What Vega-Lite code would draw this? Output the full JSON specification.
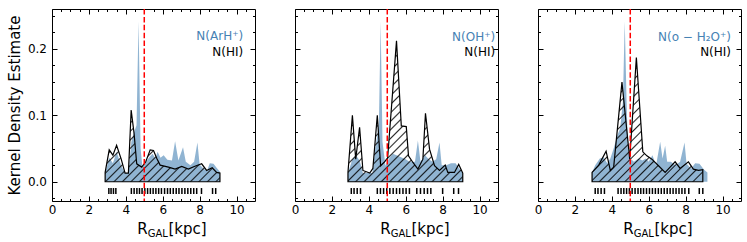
{
"$schema": "https://vega.github.io/schema/vega-lite/v6.json",
"padding": {"left": 6, "top": 7, "right": 4, "bottom": 4},
"spacing": 40,
"bounds": "flush",
"config": {
  "view": {"stroke": "black", "strokeWidth": 1},
  "font": "DejaVu Sans",
  "axis": {"domain": false, "grid": false, "tickColor": "black", "tickWidth": 1, "labelColor": "black", "labelFont": "DejaVu Sans", "labelFontSize": 12, "titleFont": "DejaVu Sans", "titleFontWeight": "normal", "titleColor": "black", "zindex": 1}
},
"datasets": {
  "one": [{}],
  "m1": [{"R":2.88,"K":0.013},{"R":3.1,"K":0.036},{"R":3.3,"K":0.028},{"R":3.5,"K":0.045},{"R":3.75,"K":0.024},{"R":3.96,"K":0.013},{"R":4.14,"K":0.013},{"R":4.3,"K":0.06},{"R":4.45,"K":0.075},{"R":4.58,"K":0.085},{"R":4.69,"K":0.241},{"R":4.8,"K":0.05},{"R":4.9,"K":0.022},{"R":5.05,"K":0.028},{"R":5.25,"K":0.036},{"R":5.45,"K":0.042},{"R":5.6,"K":0.035},{"R":5.72,"K":0.045},{"R":5.88,"K":0.036},{"R":6.05,"K":0.04},{"R":6.25,"K":0.033},{"R":6.5,"K":0.032},{"R":6.67,"K":0.061},{"R":6.85,"K":0.032},{"R":7.1,"K":0.052},{"R":7.25,"K":0.03},{"R":7.5,"K":0.025},{"R":7.7,"K":0.03},{"R":7.88,"K":0.059},{"R":8.0,"K":0.026},{"R":8.2,"K":0.02},{"R":8.4,"K":0.016},{"R":8.55,"K":0.028},{"R":8.75,"K":0.027},{"R":8.95,"K":0.02},{"R":9.1,"K":0.015}],
  "h1": [{"R":2.88,"K":0.014},{"R":3.1,"K":0.048},{"R":3.3,"K":0.04},{"R":3.5,"K":0.055},{"R":3.75,"K":0.034},{"R":3.96,"K":0.013},{"R":4.14,"K":0.013},{"R":4.29,"K":0.108},{"R":4.45,"K":0.072},{"R":4.59,"K":0.027},{"R":4.86,"K":0.022},{"R":5.08,"K":0.03},{"R":5.32,"K":0.048},{"R":5.5,"K":0.047},{"R":5.68,"K":0.035},{"R":5.86,"K":0.025},{"R":6.31,"K":0.022},{"R":6.67,"K":0.019},{"R":7.03,"K":0.023},{"R":7.39,"K":0.019},{"R":7.71,"K":0.023},{"R":8.11,"K":0.027},{"R":8.38,"K":0.017},{"R":8.68,"K":0.021},{"R":8.92,"K":0.014},{"R":9.1,"K":0.013}],
  "r1": [{"R":3.08},{"R":3.2},{"R":3.33},{"R":3.46},{"R":4.3},{"R":4.45},{"R":4.6},{"R":4.74},{"R":4.88},{"R":5.03},{"R":5.18},{"R":5.33},{"R":5.48},{"R":5.63},{"R":5.78},{"R":5.93},{"R":6.1},{"R":6.26},{"R":6.41},{"R":6.57},{"R":6.73},{"R":6.88},{"R":7.04},{"R":7.2},{"R":7.36},{"R":7.52},{"R":7.68},{"R":7.84},{"R":8.1},{"R":8.7},{"R":8.87}],
  "m2": [{"R":2.87,"K":0.013},{"R":3.11,"K":0.034},{"R":3.3,"K":0.04},{"R":3.5,"K":0.032},{"R":3.68,"K":0.013},{"R":4.2,"K":0.013},{"R":4.35,"K":0.05},{"R":4.46,"K":0.07},{"R":4.55,"K":0.09},{"R":4.64,"K":0.241},{"R":4.74,"K":0.06},{"R":4.9,"K":0.024},{"R":5.1,"K":0.035},{"R":5.3,"K":0.042},{"R":5.5,"K":0.04},{"R":5.75,"K":0.037},{"R":6.0,"K":0.034},{"R":6.2,"K":0.03},{"R":6.5,"K":0.03},{"R":6.66,"K":0.062},{"R":6.8,"K":0.03},{"R":7.05,"K":0.04},{"R":7.25,"K":0.034},{"R":7.45,"K":0.03},{"R":7.65,"K":0.034},{"R":7.83,"K":0.059},{"R":7.95,"K":0.025},{"R":8.2,"K":0.025},{"R":8.45,"K":0.028},{"R":8.7,"K":0.028},{"R":8.9,"K":0.02},{"R":9.09,"K":0.014}],
  "h2": [{"R":2.87,"K":0.014},{"R":3.11,"K":0.1},{"R":3.29,"K":0.034},{"R":3.5,"K":0.082},{"R":3.68,"K":0.017},{"R":4.05,"K":0.013},{"R":4.22,"K":0.02},{"R":4.46,"K":0.1},{"R":4.64,"K":0.024},{"R":4.85,"K":0.03},{"R":5.02,"K":0.036},{"R":5.5,"K":0.212},{"R":5.76,"K":0.084},{"R":6.03,"K":0.083},{"R":6.15,"K":0.039},{"R":6.39,"K":0.029},{"R":6.66,"K":0.019},{"R":6.93,"K":0.034},{"R":7.07,"K":0.103},{"R":7.29,"K":0.049},{"R":7.56,"K":0.024},{"R":7.83,"K":0.017},{"R":8.14,"K":0.025},{"R":8.28,"K":0.014},{"R":8.64,"K":0.014},{"R":8.87,"K":0.026},{"R":9.09,"K":0.013}],
  "r2": [{"R":3.05},{"R":3.2},{"R":3.37},{"R":3.55},{"R":4.46},{"R":4.63},{"R":4.8},{"R":4.97},{"R":5.14},{"R":5.32},{"R":5.5},{"R":5.67},{"R":5.85},{"R":6.02},{"R":6.2},{"R":6.6},{"R":6.8},{"R":7.0},{"R":7.18},{"R":7.36},{"R":8.0},{"R":8.6},{"R":8.86}],
  "m3": [{"R":2.93,"K":0.014},{"R":3.1,"K":0.025},{"R":3.35,"K":0.035},{"R":3.55,"K":0.037},{"R":3.75,"K":0.028},{"R":3.92,"K":0.035},{"R":4.1,"K":0.05},{"R":4.3,"K":0.07},{"R":4.45,"K":0.08},{"R":4.6,"K":0.12},{"R":4.7,"K":0.241},{"R":4.8,"K":0.12},{"R":4.88,"K":0.045},{"R":5.0,"K":0.035},{"R":5.2,"K":0.03},{"R":5.45,"K":0.035},{"R":5.65,"K":0.032},{"R":5.85,"K":0.035},{"R":6.0,"K":0.03},{"R":6.2,"K":0.04},{"R":6.4,"K":0.025},{"R":6.62,"K":0.06},{"R":6.75,"K":0.035},{"R":6.89,"K":0.054},{"R":7.0,"K":0.03},{"R":7.2,"K":0.03},{"R":7.45,"K":0.025},{"R":7.7,"K":0.03},{"R":7.94,"K":0.059},{"R":8.05,"K":0.027},{"R":8.3,"K":0.02},{"R":8.52,"K":0.028},{"R":8.75,"K":0.027},{"R":9.0,"K":0.018},{"R":9.18,"K":0.014}],
  "h3": [{"R":2.93,"K":0.014},{"R":3.29,"K":0.025},{"R":3.69,"K":0.046},{"R":3.92,"K":0.017},{"R":4.1,"K":0.022},{"R":4.55,"K":0.15},{"R":4.97,"K":0.034},{"R":5.33,"K":0.187},{"R":5.68,"K":0.045},{"R":5.9,"K":0.039},{"R":6.17,"K":0.034},{"R":6.53,"K":0.024},{"R":6.89,"K":0.014},{"R":7.16,"K":0.022},{"R":7.43,"K":0.03},{"R":7.7,"K":0.02},{"R":8.15,"K":0.03},{"R":8.42,"K":0.019},{"R":8.7,"K":0.017},{"R":8.93,"K":0.018}],
  "r3": [{"R":3.1},{"R":3.25},{"R":3.42},{"R":3.6},{"R":4.34},{"R":4.5},{"R":4.65},{"R":4.8},{"R":4.95},{"R":5.1},{"R":5.26},{"R":5.42},{"R":5.57},{"R":5.72},{"R":5.88},{"R":6.04},{"R":6.2},{"R":6.36},{"R":6.52},{"R":6.68},{"R":6.84},{"R":7.0},{"R":7.16},{"R":7.32},{"R":7.48},{"R":7.64},{"R":7.8},{"R":7.96},{"R":8.17},{"R":8.74},{"R":8.93}]
},
"hconcat": [
{
  "width": 203, "height": 192,
  "resolve": {"axis": {"x": "independent", "y": "independent"}},
  "layer": [
    {"data": {"name": "m1"}, "mark": {"type": "area", "color": "#4682b4", "opacity": 0.6},
     "encoding": {
       "x": {"field": "R", "type": "quantitative", "scale": {"domain": [0, 11], "nice": false, "zero": false}, "axis": {"orient": "bottom", "values": [0,2,4,6,8,10], "ticks": false, "labelPadding": 3, "format": "d", "title": null, "labelFlush": false, "labelOverlap": false}},
       "y": {"field": "K", "type": "quantitative", "scale": {"domain": [-0.029, 0.26], "nice": false, "zero": false}, "axis": {"orient": "left", "values": [0, 0.1, 0.2], "ticks": false, "labelPadding": 5.5, "format": ".1f", "title": "Kernel Density Estimate", "titleFontSize": 15, "titlePadding": 5, "labelFlush": false}},
       "y2": {"datum": 0}}},
    {"data": {"name": "h1"}, "mark": {"type": "area", "stroke": "black", "strokeWidth": 1.2, "fill": {"gradient": "linear", "x1": 0, "y1": 0, "x2": 1.1685, "y2": 0.7304, "stops": [
      {"offset":0.013,"color":"rgba(0,0,0,0)"},{"offset":0.021,"color":"rgba(0,0,0,0.85)"},{"offset":0.029,"color":"rgba(0,0,0,0)"},
      {"offset":0.059,"color":"rgba(0,0,0,0)"},{"offset":0.067,"color":"rgba(0,0,0,0.85)"},{"offset":0.075,"color":"rgba(0,0,0,0)"},
      {"offset":0.105,"color":"rgba(0,0,0,0)"},{"offset":0.113,"color":"rgba(0,0,0,0.85)"},{"offset":0.121,"color":"rgba(0,0,0,0)"},
      {"offset":0.150,"color":"rgba(0,0,0,0)"},{"offset":0.158,"color":"rgba(0,0,0,0.85)"},{"offset":0.166,"color":"rgba(0,0,0,0)"},
      {"offset":0.196,"color":"rgba(0,0,0,0)"},{"offset":0.204,"color":"rgba(0,0,0,0.85)"},{"offset":0.212,"color":"rgba(0,0,0,0)"},
      {"offset":0.241,"color":"rgba(0,0,0,0)"},{"offset":0.249,"color":"rgba(0,0,0,0.85)"},{"offset":0.257,"color":"rgba(0,0,0,0)"},
      {"offset":0.287,"color":"rgba(0,0,0,0)"},{"offset":0.295,"color":"rgba(0,0,0,0.85)"},{"offset":0.303,"color":"rgba(0,0,0,0)"},
      {"offset":0.332,"color":"rgba(0,0,0,0)"},{"offset":0.340,"color":"rgba(0,0,0,0.85)"},{"offset":0.348,"color":"rgba(0,0,0,0)"},
      {"offset":0.378,"color":"rgba(0,0,0,0)"},{"offset":0.386,"color":"rgba(0,0,0,0.85)"},{"offset":0.394,"color":"rgba(0,0,0,0)"},
      {"offset":0.424,"color":"rgba(0,0,0,0)"},{"offset":0.432,"color":"rgba(0,0,0,0.85)"},{"offset":0.440,"color":"rgba(0,0,0,0)"},
      {"offset":0.469,"color":"rgba(0,0,0,0)"},{"offset":0.477,"color":"rgba(0,0,0,0.85)"},{"offset":0.485,"color":"rgba(0,0,0,0)"},
      {"offset":0.515,"color":"rgba(0,0,0,0)"},{"offset":0.523,"color":"rgba(0,0,0,0.85)"},{"offset":0.531,"color":"rgba(0,0,0,0)"},
      {"offset":0.560,"color":"rgba(0,0,0,0)"},{"offset":0.568,"color":"rgba(0,0,0,0.85)"},{"offset":0.576,"color":"rgba(0,0,0,0)"},
      {"offset":0.606,"color":"rgba(0,0,0,0)"},{"offset":0.614,"color":"rgba(0,0,0,0.85)"},{"offset":0.622,"color":"rgba(0,0,0,0)"},
      {"offset":0.651,"color":"rgba(0,0,0,0)"},{"offset":0.659,"color":"rgba(0,0,0,0.85)"},{"offset":0.667,"color":"rgba(0,0,0,0)"},
      {"offset":0.697,"color":"rgba(0,0,0,0)"},{"offset":0.705,"color":"rgba(0,0,0,0.85)"},{"offset":0.713,"color":"rgba(0,0,0,0)"},
      {"offset":0.743,"color":"rgba(0,0,0,0)"},{"offset":0.751,"color":"rgba(0,0,0,0.85)"},{"offset":0.759,"color":"rgba(0,0,0,0)"},
      {"offset":0.788,"color":"rgba(0,0,0,0)"},{"offset":0.796,"color":"rgba(0,0,0,0.85)"},{"offset":0.804,"color":"rgba(0,0,0,0)"},
      {"offset":0.834,"color":"rgba(0,0,0,0)"},{"offset":0.842,"color":"rgba(0,0,0,0.85)"},{"offset":0.850,"color":"rgba(0,0,0,0)"},
      {"offset":0.879,"color":"rgba(0,0,0,0)"},{"offset":0.887,"color":"rgba(0,0,0,0.85)"},{"offset":0.895,"color":"rgba(0,0,0,0)"},
      {"offset":0.925,"color":"rgba(0,0,0,0)"},{"offset":0.933,"color":"rgba(0,0,0,0.85)"},{"offset":0.941,"color":"rgba(0,0,0,0)"},
      {"offset":0.970,"color":"rgba(0,0,0,0)"},{"offset":0.978,"color":"rgba(0,0,0,0.85)"},{"offset":0.986,"color":"rgba(0,0,0,0)"}
      ]}},
     "encoding": {
       "x": {"field": "R", "type": "quantitative", "axis": {"orient": "bottom", "values": [0,2,4,6,8,10], "labels": false, "tickSize": -5, "title": null}},
       "y": {"field": "K", "type": "quantitative", "axis": {"orient": "left", "values": [0,0.1,0.2], "labels": false, "tickSize": -5, "title": null}},
       "y2": {"datum": 0}}},
    {"data": {"name": "m1"}, "mark": {"type": "point", "opacity": 0},
     "encoding": {
       "x": {"field": "R", "type": "quantitative", "axis": {"orient": "top", "values": [0,2,4,6,8,10], "labels": false, "tickSize": -5, "title": null}},
       "y": {"field": "K", "type": "quantitative", "axis": {"orient": "right", "values": [0,0.1,0.2], "labels": false, "tickSize": -5, "title": null}}}},
    {"data": {"name": "m1"}, "mark": {"type": "point", "opacity": 0},
     "encoding": {
       "x": {"field": "R", "type": "quantitative", "axis": {"orient": "bottom", "values": [0.5,1,1.5,2.5,3,3.5,4.5,5,5.5,6.5,7,7.5,8.5,9,9.5,10.5], "labels": false, "tickSize": -2.5, "title": null}},
       "y": {"field": "K", "type": "quantitative", "axis": {"orient": "left", "values": [-0.025,0.025,0.05,0.075,0.125,0.15,0.175,0.225,0.25], "labels": false, "tickSize": -2.5, "title": null}}}},
    {"data": {"name": "m1"}, "mark": {"type": "point", "opacity": 0},
     "encoding": {
       "x": {"field": "R", "type": "quantitative", "axis": {"orient": "top", "values": [0.5,1,1.5,2.5,3,3.5,4.5,5,5.5,6.5,7,7.5,8.5,9,9.5,10.5], "labels": false, "tickSize": -2.5, "title": null}},
       "y": {"field": "K", "type": "quantitative", "axis": {"orient": "right", "values": [-0.025,0.025,0.05,0.075,0.125,0.15,0.175,0.225,0.25], "labels": false, "tickSize": -2.5, "title": null}}}},
    {"data": {"name": "r1"}, "mark": {"type": "rule", "color": "black", "strokeWidth": 1.5},
     "encoding": {"x": {"field": "R", "type": "quantitative", "axis": null}, "y": {"datum": -0.0185, "axis": null}, "y2": {"datum": -0.0095}}},
    {"data": {"name": "one"}, "mark": {"type": "rule", "color": "red", "strokeWidth": 1.5, "strokeDash": [5.5, 2.4]},
     "encoding": {"x": {"datum": 5, "axis": null}}},
    {"data": {"name": "one"}, "mark": {"type": "text", "align": "right", "baseline": "middle", "fontSize": 12, "color": "#4682b4"},
     "encoding": {"x": {"datum": 10.36, "axis": null}, "y": {"datum": 0.219, "axis": null}, "text": {"value": "N(ArH⁺)"}}},
    {"data": {"name": "one"}, "mark": {"type": "text", "align": "right", "baseline": "middle", "fontSize": 12, "color": "black"},
     "encoding": {"x": {"datum": 10.36, "axis": null}, "y": {"datum": 0.195, "axis": null}, "text": {"value": "N(HI)"}}},
    {"data": {"name": "one"}, "mark": {"type": "text", "align": "left", "baseline": "alphabetic", "fontSize": 15, "color": "black"},
     "encoding": {"x": {"datum": 4.62, "axis": null}, "y": {"datum": -0.0786, "axis": null}, "text": {"value": "R"}}},
    {"data": {"name": "one"}, "mark": {"type": "text", "align": "left", "baseline": "alphabetic", "fontSize": 10, "color": "black"},
     "encoding": {"x": {"datum": 5.19, "axis": null}, "y": {"datum": -0.0825, "axis": null}, "text": {"value": "GAL"}}},
    {"data": {"name": "one"}, "mark": {"type": "text", "align": "left", "baseline": "alphabetic", "fontSize": 15, "color": "black"},
     "encoding": {"x": {"datum": 6.31, "axis": null}, "y": {"datum": -0.0786, "axis": null}, "text": {"value": "[kpc]"}}}
  ]
},
{
  "width": 203, "height": 192,
  "resolve": {"axis": {"x": "independent", "y": "independent"}},
  "layer": [
    {"data": {"name": "m2"}, "mark": {"type": "area", "color": "#4682b4", "opacity": 0.6},
     "encoding": {
       "x": {"field": "R", "type": "quantitative", "scale": {"domain": [0, 11], "nice": false, "zero": false}, "axis": {"orient": "bottom", "values": [0,2,4,6,8,10], "ticks": false, "labelPadding": 3, "format": "d", "title": null, "labelFlush": false, "labelOverlap": false}},
       "y": {"field": "K", "type": "quantitative", "scale": {"domain": [-0.029, 0.26], "nice": false, "zero": false}, "axis": null},
       "y2": {"datum": 0}}},
    {"data": {"name": "h2"}, "mark": {"type": "area", "stroke": "black", "strokeWidth": 1.2, "fill": {"gradient": "linear", "x1": 0, "y1": 0, "x2": 0.8888, "y2": 1.0906, "stops": [
      {"offset":0.010,"color":"rgba(0,0,0,0)"},{"offset":0.016,"color":"rgba(0,0,0,0.85)"},{"offset":0.022,"color":"rgba(0,0,0,0)"},
      {"offset":0.043,"color":"rgba(0,0,0,0)"},{"offset":0.049,"color":"rgba(0,0,0,0.85)"},{"offset":0.055,"color":"rgba(0,0,0,0)"},
      {"offset":0.076,"color":"rgba(0,0,0,0)"},{"offset":0.082,"color":"rgba(0,0,0,0.85)"},{"offset":0.088,"color":"rgba(0,0,0,0)"},
      {"offset":0.109,"color":"rgba(0,0,0,0)"},{"offset":0.115,"color":"rgba(0,0,0,0.85)"},{"offset":0.121,"color":"rgba(0,0,0,0)"},
      {"offset":0.143,"color":"rgba(0,0,0,0)"},{"offset":0.149,"color":"rgba(0,0,0,0.85)"},{"offset":0.155,"color":"rgba(0,0,0,0)"},
      {"offset":0.176,"color":"rgba(0,0,0,0)"},{"offset":0.182,"color":"rgba(0,0,0,0.85)"},{"offset":0.188,"color":"rgba(0,0,0,0)"},
      {"offset":0.209,"color":"rgba(0,0,0,0)"},{"offset":0.215,"color":"rgba(0,0,0,0.85)"},{"offset":0.221,"color":"rgba(0,0,0,0)"},
      {"offset":0.242,"color":"rgba(0,0,0,0)"},{"offset":0.248,"color":"rgba(0,0,0,0.85)"},{"offset":0.254,"color":"rgba(0,0,0,0)"},
      {"offset":0.276,"color":"rgba(0,0,0,0)"},{"offset":0.282,"color":"rgba(0,0,0,0.85)"},{"offset":0.288,"color":"rgba(0,0,0,0)"},
      {"offset":0.309,"color":"rgba(0,0,0,0)"},{"offset":0.315,"color":"rgba(0,0,0,0.85)"},{"offset":0.321,"color":"rgba(0,0,0,0)"},
      {"offset":0.342,"color":"rgba(0,0,0,0)"},{"offset":0.348,"color":"rgba(0,0,0,0.85)"},{"offset":0.354,"color":"rgba(0,0,0,0)"},
      {"offset":0.375,"color":"rgba(0,0,0,0)"},{"offset":0.381,"color":"rgba(0,0,0,0.85)"},{"offset":0.387,"color":"rgba(0,0,0,0)"},
      {"offset":0.409,"color":"rgba(0,0,0,0)"},{"offset":0.415,"color":"rgba(0,0,0,0.85)"},{"offset":0.421,"color":"rgba(0,0,0,0)"},
      {"offset":0.442,"color":"rgba(0,0,0,0)"},{"offset":0.448,"color":"rgba(0,0,0,0.85)"},{"offset":0.454,"color":"rgba(0,0,0,0)"},
      {"offset":0.475,"color":"rgba(0,0,0,0)"},{"offset":0.481,"color":"rgba(0,0,0,0.85)"},{"offset":0.487,"color":"rgba(0,0,0,0)"},
      {"offset":0.508,"color":"rgba(0,0,0,0)"},{"offset":0.514,"color":"rgba(0,0,0,0.85)"},{"offset":0.520,"color":"rgba(0,0,0,0)"},
      {"offset":0.542,"color":"rgba(0,0,0,0)"},{"offset":0.548,"color":"rgba(0,0,0,0.85)"},{"offset":0.554,"color":"rgba(0,0,0,0)"},
      {"offset":0.575,"color":"rgba(0,0,0,0)"},{"offset":0.581,"color":"rgba(0,0,0,0.85)"},{"offset":0.587,"color":"rgba(0,0,0,0)"},
      {"offset":0.608,"color":"rgba(0,0,0,0)"},{"offset":0.614,"color":"rgba(0,0,0,0.85)"},{"offset":0.620,"color":"rgba(0,0,0,0)"},
      {"offset":0.641,"color":"rgba(0,0,0,0)"},{"offset":0.647,"color":"rgba(0,0,0,0.85)"},{"offset":0.653,"color":"rgba(0,0,0,0)"},
      {"offset":0.675,"color":"rgba(0,0,0,0)"},{"offset":0.681,"color":"rgba(0,0,0,0.85)"},{"offset":0.687,"color":"rgba(0,0,0,0)"},
      {"offset":0.708,"color":"rgba(0,0,0,0)"},{"offset":0.714,"color":"rgba(0,0,0,0.85)"},{"offset":0.720,"color":"rgba(0,0,0,0)"},
      {"offset":0.741,"color":"rgba(0,0,0,0)"},{"offset":0.747,"color":"rgba(0,0,0,0.85)"},{"offset":0.753,"color":"rgba(0,0,0,0)"},
      {"offset":0.774,"color":"rgba(0,0,0,0)"},{"offset":0.780,"color":"rgba(0,0,0,0.85)"},{"offset":0.786,"color":"rgba(0,0,0,0)"},
      {"offset":0.808,"color":"rgba(0,0,0,0)"},{"offset":0.814,"color":"rgba(0,0,0,0.85)"},{"offset":0.820,"color":"rgba(0,0,0,0)"},
      {"offset":0.841,"color":"rgba(0,0,0,0)"},{"offset":0.847,"color":"rgba(0,0,0,0.85)"},{"offset":0.853,"color":"rgba(0,0,0,0)"},
      {"offset":0.874,"color":"rgba(0,0,0,0)"},{"offset":0.880,"color":"rgba(0,0,0,0.85)"},{"offset":0.886,"color":"rgba(0,0,0,0)"},
      {"offset":0.907,"color":"rgba(0,0,0,0)"},{"offset":0.913,"color":"rgba(0,0,0,0.85)"},{"offset":0.919,"color":"rgba(0,0,0,0)"},
      {"offset":0.941,"color":"rgba(0,0,0,0)"},{"offset":0.947,"color":"rgba(0,0,0,0.85)"},{"offset":0.953,"color":"rgba(0,0,0,0)"},
      {"offset":0.974,"color":"rgba(0,0,0,0)"},{"offset":0.980,"color":"rgba(0,0,0,0.85)"},{"offset":0.986,"color":"rgba(0,0,0,0)"}
      ]}},
     "encoding": {
       "x": {"field": "R", "type": "quantitative", "axis": {"orient": "bottom", "values": [0,2,4,6,8,10], "labels": false, "tickSize": -5, "title": null}},
       "y": {"field": "K", "type": "quantitative", "axis": {"orient": "left", "values": [0,0.1,0.2], "labels": false, "tickSize": -5, "title": null}},
       "y2": {"datum": 0}}},
    {"data": {"name": "m2"}, "mark": {"type": "point", "opacity": 0},
     "encoding": {
       "x": {"field": "R", "type": "quantitative", "axis": {"orient": "top", "values": [0,2,4,6,8,10], "labels": false, "tickSize": -5, "title": null}},
       "y": {"field": "K", "type": "quantitative", "axis": {"orient": "right", "values": [0,0.1,0.2], "labels": false, "tickSize": -5, "title": null}}}},
    {"data": {"name": "m2"}, "mark": {"type": "point", "opacity": 0},
     "encoding": {
       "x": {"field": "R", "type": "quantitative", "axis": {"orient": "bottom", "values": [0.5,1,1.5,2.5,3,3.5,4.5,5,5.5,6.5,7,7.5,8.5,9,9.5,10.5], "labels": false, "tickSize": -2.5, "title": null}},
       "y": {"field": "K", "type": "quantitative", "axis": {"orient": "left", "values": [-0.025,0.025,0.05,0.075,0.125,0.15,0.175,0.225,0.25], "labels": false, "tickSize": -2.5, "title": null}}}},
    {"data": {"name": "m2"}, "mark": {"type": "point", "opacity": 0},
     "encoding": {
       "x": {"field": "R", "type": "quantitative", "axis": {"orient": "top", "values": [0.5,1,1.5,2.5,3,3.5,4.5,5,5.5,6.5,7,7.5,8.5,9,9.5,10.5], "labels": false, "tickSize": -2.5, "title": null}},
       "y": {"field": "K", "type": "quantitative", "axis": {"orient": "right", "values": [-0.025,0.025,0.05,0.075,0.125,0.15,0.175,0.225,0.25], "labels": false, "tickSize": -2.5, "title": null}}}},
    {"data": {"name": "r2"}, "mark": {"type": "rule", "color": "black", "strokeWidth": 1.5},
     "encoding": {"x": {"field": "R", "type": "quantitative", "axis": null}, "y": {"datum": -0.0185, "axis": null}, "y2": {"datum": -0.0095}}},
    {"data": {"name": "one"}, "mark": {"type": "rule", "color": "red", "strokeWidth": 1.5, "strokeDash": [5.5, 2.4]},
     "encoding": {"x": {"datum": 5, "axis": null}}},
    {"data": {"name": "one"}, "mark": {"type": "text", "align": "right", "baseline": "middle", "fontSize": 12, "color": "#4682b4"},
     "encoding": {"x": {"datum": 10.85, "axis": null}, "y": {"datum": 0.218, "axis": null}, "text": {"value": "N(OH⁺)"}}},
    {"data": {"name": "one"}, "mark": {"type": "text", "align": "right", "baseline": "middle", "fontSize": 12, "color": "black"},
     "encoding": {"x": {"datum": 10.85, "axis": null}, "y": {"datum": 0.196, "axis": null}, "text": {"value": "N(HI)"}}},
    {"data": {"name": "one"}, "mark": {"type": "text", "align": "left", "baseline": "alphabetic", "fontSize": 15, "color": "black"},
     "encoding": {"x": {"datum": 4.62, "axis": null}, "y": {"datum": -0.0786, "axis": null}, "text": {"value": "R"}}},
    {"data": {"name": "one"}, "mark": {"type": "text", "align": "left", "baseline": "alphabetic", "fontSize": 10, "color": "black"},
     "encoding": {"x": {"datum": 5.19, "axis": null}, "y": {"datum": -0.0825, "axis": null}, "text": {"value": "GAL"}}},
    {"data": {"name": "one"}, "mark": {"type": "text", "align": "left", "baseline": "alphabetic", "fontSize": 15, "color": "black"},
     "encoding": {"x": {"datum": 6.31, "axis": null}, "y": {"datum": -0.0786, "axis": null}, "text": {"value": "[kpc]"}}}
  ]
},
{
  "width": 203, "height": 192,
  "resolve": {"axis": {"x": "independent", "y": "independent"}},
  "layer": [
    {"data": {"name": "m3"}, "mark": {"type": "area", "color": "#4682b4", "opacity": 0.6},
     "encoding": {
       "x": {"field": "R", "type": "quantitative", "scale": {"domain": [0, 11], "nice": false, "zero": false}, "axis": {"orient": "bottom", "values": [0,2,4,6,8,10], "ticks": false, "labelPadding": 3, "format": "d", "title": null, "labelFlush": false, "labelOverlap": false}},
       "y": {"field": "K", "type": "quantitative", "scale": {"domain": [-0.029, 0.26], "nice": false, "zero": false}, "axis": null},
       "y2": {"datum": 0}}},
    {"data": {"name": "h3"}, "mark": {"type": "area", "stroke": "black", "strokeWidth": 1.2, "fill": {"gradient": "linear", "x1": 0, "y1": 0, "x2": 0.9394, "y2": 1.054, "stops": [
      {"offset":0.011,"color":"rgba(0,0,0,0)"},{"offset":0.017,"color":"rgba(0,0,0,0.85)"},{"offset":0.023,"color":"rgba(0,0,0,0)"},
      {"offset":0.047,"color":"rgba(0,0,0,0)"},{"offset":0.053,"color":"rgba(0,0,0,0.85)"},{"offset":0.060,"color":"rgba(0,0,0,0)"},
      {"offset":0.083,"color":"rgba(0,0,0,0)"},{"offset":0.089,"color":"rgba(0,0,0,0.85)"},{"offset":0.096,"color":"rgba(0,0,0,0)"},
      {"offset":0.119,"color":"rgba(0,0,0,0)"},{"offset":0.126,"color":"rgba(0,0,0,0.85)"},{"offset":0.132,"color":"rgba(0,0,0,0)"},
      {"offset":0.155,"color":"rgba(0,0,0,0)"},{"offset":0.162,"color":"rgba(0,0,0,0.85)"},{"offset":0.168,"color":"rgba(0,0,0,0)"},
      {"offset":0.192,"color":"rgba(0,0,0,0)"},{"offset":0.198,"color":"rgba(0,0,0,0.85)"},{"offset":0.204,"color":"rgba(0,0,0,0)"},
      {"offset":0.228,"color":"rgba(0,0,0,0)"},{"offset":0.234,"color":"rgba(0,0,0,0.85)"},{"offset":0.241,"color":"rgba(0,0,0,0)"},
      {"offset":0.264,"color":"rgba(0,0,0,0)"},{"offset":0.270,"color":"rgba(0,0,0,0.85)"},{"offset":0.277,"color":"rgba(0,0,0,0)"},
      {"offset":0.300,"color":"rgba(0,0,0,0)"},{"offset":0.306,"color":"rgba(0,0,0,0.85)"},{"offset":0.313,"color":"rgba(0,0,0,0)"},
      {"offset":0.336,"color":"rgba(0,0,0,0)"},{"offset":0.343,"color":"rgba(0,0,0,0.85)"},{"offset":0.349,"color":"rgba(0,0,0,0)"},
      {"offset":0.372,"color":"rgba(0,0,0,0)"},{"offset":0.379,"color":"rgba(0,0,0,0.85)"},{"offset":0.385,"color":"rgba(0,0,0,0)"},
      {"offset":0.409,"color":"rgba(0,0,0,0)"},{"offset":0.415,"color":"rgba(0,0,0,0.85)"},{"offset":0.421,"color":"rgba(0,0,0,0)"},
      {"offset":0.445,"color":"rgba(0,0,0,0)"},{"offset":0.451,"color":"rgba(0,0,0,0.85)"},{"offset":0.458,"color":"rgba(0,0,0,0)"},
      {"offset":0.481,"color":"rgba(0,0,0,0)"},{"offset":0.487,"color":"rgba(0,0,0,0.85)"},{"offset":0.494,"color":"rgba(0,0,0,0)"},
      {"offset":0.517,"color":"rgba(0,0,0,0)"},{"offset":0.524,"color":"rgba(0,0,0,0.85)"},{"offset":0.530,"color":"rgba(0,0,0,0)"},
      {"offset":0.553,"color":"rgba(0,0,0,0)"},{"offset":0.560,"color":"rgba(0,0,0,0.85)"},{"offset":0.566,"color":"rgba(0,0,0,0)"},
      {"offset":0.589,"color":"rgba(0,0,0,0)"},{"offset":0.596,"color":"rgba(0,0,0,0.85)"},{"offset":0.602,"color":"rgba(0,0,0,0)"},
      {"offset":0.626,"color":"rgba(0,0,0,0)"},{"offset":0.632,"color":"rgba(0,0,0,0.85)"},{"offset":0.638,"color":"rgba(0,0,0,0)"},
      {"offset":0.662,"color":"rgba(0,0,0,0)"},{"offset":0.668,"color":"rgba(0,0,0,0.85)"},{"offset":0.675,"color":"rgba(0,0,0,0)"},
      {"offset":0.698,"color":"rgba(0,0,0,0)"},{"offset":0.704,"color":"rgba(0,0,0,0.85)"},{"offset":0.711,"color":"rgba(0,0,0,0)"},
      {"offset":0.734,"color":"rgba(0,0,0,0)"},{"offset":0.741,"color":"rgba(0,0,0,0.85)"},{"offset":0.747,"color":"rgba(0,0,0,0)"},
      {"offset":0.770,"color":"rgba(0,0,0,0)"},{"offset":0.777,"color":"rgba(0,0,0,0.85)"},{"offset":0.783,"color":"rgba(0,0,0,0)"},
      {"offset":0.806,"color":"rgba(0,0,0,0)"},{"offset":0.813,"color":"rgba(0,0,0,0.85)"},{"offset":0.819,"color":"rgba(0,0,0,0)"},
      {"offset":0.843,"color":"rgba(0,0,0,0)"},{"offset":0.849,"color":"rgba(0,0,0,0.85)"},{"offset":0.855,"color":"rgba(0,0,0,0)"},
      {"offset":0.879,"color":"rgba(0,0,0,0)"},{"offset":0.885,"color":"rgba(0,0,0,0.85)"},{"offset":0.892,"color":"rgba(0,0,0,0)"},
      {"offset":0.915,"color":"rgba(0,0,0,0)"},{"offset":0.921,"color":"rgba(0,0,0,0.85)"},{"offset":0.928,"color":"rgba(0,0,0,0)"},
      {"offset":0.951,"color":"rgba(0,0,0,0)"},{"offset":0.958,"color":"rgba(0,0,0,0.85)"},{"offset":0.964,"color":"rgba(0,0,0,0)"}
      ]}},
     "encoding": {
       "x": {"field": "R", "type": "quantitative", "axis": {"orient": "bottom", "values": [0,2,4,6,8,10], "labels": false, "tickSize": -5, "title": null}},
       "y": {"field": "K", "type": "quantitative", "axis": {"orient": "left", "values": [0,0.1,0.2], "labels": false, "tickSize": -5, "title": null}},
       "y2": {"datum": 0}}},
    {"data": {"name": "m3"}, "mark": {"type": "point", "opacity": 0},
     "encoding": {
       "x": {"field": "R", "type": "quantitative", "axis": {"orient": "top", "values": [0,2,4,6,8,10], "labels": false, "tickSize": -5, "title": null}},
       "y": {"field": "K", "type": "quantitative", "axis": {"orient": "right", "values": [0,0.1,0.2], "labels": false, "tickSize": -5, "title": null}}}},
    {"data": {"name": "m3"}, "mark": {"type": "point", "opacity": 0},
     "encoding": {
       "x": {"field": "R", "type": "quantitative", "axis": {"orient": "bottom", "values": [0.5,1,1.5,2.5,3,3.5,4.5,5,5.5,6.5,7,7.5,8.5,9,9.5,10.5], "labels": false, "tickSize": -2.5, "title": null}},
       "y": {"field": "K", "type": "quantitative", "axis": {"orient": "left", "values": [-0.025,0.025,0.05,0.075,0.125,0.15,0.175,0.225,0.25], "labels": false, "tickSize": -2.5, "title": null}}}},
    {"data": {"name": "m3"}, "mark": {"type": "point", "opacity": 0},
     "encoding": {
       "x": {"field": "R", "type": "quantitative", "axis": {"orient": "top", "values": [0.5,1,1.5,2.5,3,3.5,4.5,5,5.5,6.5,7,7.5,8.5,9,9.5,10.5], "labels": false, "tickSize": -2.5, "title": null}},
       "y": {"field": "K", "type": "quantitative", "axis": {"orient": "right", "values": [-0.025,0.025,0.05,0.075,0.125,0.15,0.175,0.225,0.25], "labels": false, "tickSize": -2.5, "title": null}}}},
    {"data": {"name": "r3"}, "mark": {"type": "rule", "color": "black", "strokeWidth": 1.5},
     "encoding": {"x": {"field": "R", "type": "quantitative", "axis": null}, "y": {"datum": -0.0185, "axis": null}, "y2": {"datum": -0.0095}}},
    {"data": {"name": "one"}, "mark": {"type": "rule", "color": "red", "strokeWidth": 1.5, "strokeDash": [5.5, 2.4]},
     "encoding": {"x": {"datum": 5, "axis": null}}},
    {"data": {"name": "one"}, "mark": {"type": "text", "align": "right", "baseline": "middle", "fontSize": 12, "color": "#4682b4"},
     "encoding": {"x": {"datum": 10.46, "axis": null}, "y": {"datum": 0.218, "axis": null}, "text": {"value": "N(o − H₂O⁺)"}}},
    {"data": {"name": "one"}, "mark": {"type": "text", "align": "right", "baseline": "middle", "fontSize": 12, "color": "black"},
     "encoding": {"x": {"datum": 10.46, "axis": null}, "y": {"datum": 0.195, "axis": null}, "text": {"value": "N(HI)"}}},
    {"data": {"name": "one"}, "mark": {"type": "text", "align": "left", "baseline": "alphabetic", "fontSize": 15, "color": "black"},
     "encoding": {"x": {"datum": 4.62, "axis": null}, "y": {"datum": -0.0786, "axis": null}, "text": {"value": "R"}}},
    {"data": {"name": "one"}, "mark": {"type": "text", "align": "left", "baseline": "alphabetic", "fontSize": 10, "color": "black"},
     "encoding": {"x": {"datum": 5.19, "axis": null}, "y": {"datum": -0.0825, "axis": null}, "text": {"value": "GAL"}}},
    {"data": {"name": "one"}, "mark": {"type": "text", "align": "left", "baseline": "alphabetic", "fontSize": 15, "color": "black"},
     "encoding": {"x": {"datum": 6.31, "axis": null}, "y": {"datum": -0.0786, "axis": null}, "text": {"value": "[kpc]"}}}
  ]
}
]
}
